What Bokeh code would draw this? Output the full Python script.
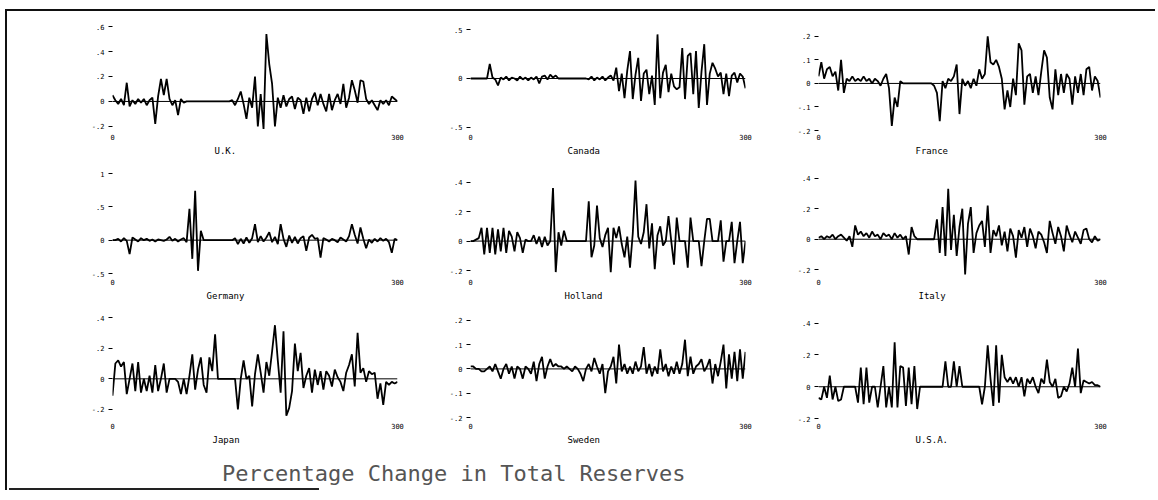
import numpy as np
from bokeh.plotting import figure
from bokeh.layouts import row, column
from bokeh.models import FixedTicker, Span, Title, Div, Spacer
from bokeh.embed import file_html
from bokeh.resources import INLINE

# Monthly percentage change in total reserves, one value every 3 months (0..300)
STEP = 3

uk = [0.05, 0.01, -0.02, 0.02, -0.03, 0.15, -0.04, 0.01, -0.02, 0.02,
      -0.01, 0.02, -0.03, 0.01, 0.03, -0.18, 0.04, 0.18, 0.05, 0.18,
      0.02, -0.03, 0.01, -0.11, 0.02, -0.01, 0, 0, 0, 0,
      0, 0, 0, 0, 0, 0, 0, 0, 0, 0,
      0, 0, 0.01, -0.03, 0.02, 0.08, -0.02, -0.14, 0.03, -0.05,
      0.2, -0.2, 0.06, -0.22, 0.54, 0.3, 0.14, -0.2, 0.03, -0.05,
      0.05, -0.04, 0.02, 0.04, -0.06, 0.03, 0.01, -0.1, 0.03, -0.08,
      0.02, 0.07, -0.03, 0.06, -0.02, -0.08, 0.06, -0.07, 0.01, 0.06,
      -0.02, 0.14, -0.05, 0.03, 0.17, 0.09, -0.01, 0.17, 0.16, 0.02,
      -0.02, 0.01, -0.03, -0.07, 0.01, -0.02, 0.01, -0.03, 0.04, 0.02,
      0.0]

canada = [0, 0, 0, 0, 0, 0, 0, 0.15, 0.01, -0.01,
          -0.07, 0.01, -0.01, 0.02, -0.02, 0.01, 0.0, -0.02, 0.02, -0.01,
          0.01, -0.02, 0.01, -0.01, 0.02, -0.05, 0.02, 0.03, -0.01, 0.04,
          0.01, 0.03, 0, 0, 0, 0, 0, 0, 0, 0,
          0, 0, 0, -0.01, 0.02, -0.02, 0.01, -0.01, 0.02, -0.02,
          0.01, 0.03, -0.02, 0.11, -0.13, 0.05, -0.2, 0.08, 0.28, -0.21,
          0.04, 0.21, -0.23, 0.05, 0.09, -0.16, 0.03, -0.27, 0.45, -0.2,
          0.06, 0.14, -0.14, 0.05, -0.08, -0.11, -0.09, 0.31, -0.21, 0.23,
          0.26, -0.16, 0.28, -0.3, 0.07, 0.35, -0.27, 0.05, 0.16, 0.1,
          0.02, 0.06, -0.16, 0.05, -0.18, 0.03, 0.06, -0.04, 0.05, 0.02,
          -0.1]

france = [0.03, 0.09, 0.02, 0.06, 0.07, 0.03, 0.05, -0.03, 0.1, -0.04,
          0.02, 0.01, 0.03, 0.01, 0.02, 0.01, 0.03, 0.01, 0.02, 0.0,
          0.02, 0.01, -0.01, 0.02, 0.04, -0.02, -0.18, -0.06, -0.1, 0.01,
          0, 0, 0, 0, 0, 0, 0, 0, 0, 0,
          0, -0.01, -0.04, -0.16, 0.01, -0.02, 0.02, 0.01, 0.03, 0.08,
          -0.13, 0.02, -0.01, 0.01, -0.02, 0.02, -0.01, 0.06, 0.02, 0.04,
          0.2, 0.09, 0.08, 0.1, 0.07, 0.02, -0.11, -0.03, -0.1, 0.02,
          -0.05, 0.17, 0.14, -0.09, 0.03, 0.04, -0.04, 0.03, -0.05, 0.05,
          0.14, 0.11, -0.06, -0.11, 0.06, -0.05, 0.04, -0.04, 0.04, 0.02,
          -0.09, 0.03, -0.04, 0.04, -0.05, 0.06, 0.07, -0.03, 0.03, 0.01,
          -0.06]

germany = [0, 0, 0.02, -0.02, 0.03, -0.01, -0.21, 0.04, 0.01, -0.02,
           0.03, 0.0, 0.02, -0.01, 0.01, -0.02, 0.01, 0.0, -0.01, 0.01,
           0.05, -0.01, 0.02, -0.02, 0.01, 0.03, -0.03, 0.47, -0.28, 0.74,
           -0.46, 0.14, 0, 0, 0, 0, 0, 0, 0, 0,
           0, 0, 0, 0.03, -0.06, 0.02, -0.05, 0.04, -0.04, 0.03,
           0.24, -0.03, 0.06, -0.02, 0.04, 0.12, -0.03, 0.05, -0.06, 0.24,
           0.02, -0.1, 0.07, -0.04, 0.05, -0.05, 0.03, 0.06, -0.16, 0.04,
           0.08, 0.02, 0.03, -0.26, 0.03, 0.01, -0.02, 0.02, 0.0, -0.03,
           0.04, 0.01, -0.02, 0.06, 0.24, 0.08, -0.05, 0.19, 0.02, -0.12,
           0.01, -0.04, 0.02, -0.02, 0.03, -0.01, 0.02, -0.03, -0.19, 0.02,
           0.0]

holland = [0, 0, 0.01, 0.02, 0.09, -0.09, 0.09, -0.08, 0.09, -0.09,
           0.08, -0.07, 0.09, -0.08, 0.07, 0.03, -0.07, 0.06, 0.02, -0.08,
           0.01, 0.0, 0.0, 0.04, -0.02, 0.03, -0.04, 0.03, -0.03, 0.0,
           0.36, -0.21, 0.06, -0.03, 0.07, 0.0, 0, 0, 0, 0,
           0, 0, 0, 0.27, -0.11, -0.03, 0.24, 0.02, -0.04, 0.04,
           0.09, -0.21, 0.09, 0.02, 0.1, -0.02, -0.11, 0.03, -0.18, 0.05,
           0.41, 0.03, -0.02, 0.06, 0.25, -0.05, 0.12, -0.19, 0.04, 0.1,
           -0.03, 0.0, 0.17, 0.0, -0.16, 0.16, 0.0, 0.0, 0.0, -0.18,
           0.16, 0.0, 0.0, 0.0, -0.17, 0.0, 0.15, 0.15, 0.0, 0.0,
           0.0, 0.14, -0.14, 0.0, 0.0, 0.13, -0.15, 0.0, 0.13, -0.15,
           0.0]

italy = [0.01, 0.02, 0.0, 0.02, 0.01, 0.03, 0.0, 0.02, 0.03, 0.01,
         -0.01, 0.02, -0.05, 0.09, 0.03, 0.05, 0.02, 0.04, 0.01, 0.05,
         0.02, 0.03, 0.0, 0.04, 0.02, 0.03, 0.0, 0.04, 0.01, 0.03,
         0.0, 0.02, -0.1, 0.08, 0.02, 0, 0, 0, 0, 0,
         0, 0, 0.13, -0.09, 0.21, -0.11, 0.33, -0.07, 0.16, -0.11,
         0.08, 0.2, -0.23, 0.1, 0.21, -0.09, 0.04, 0.09, 0.12, -0.05,
         0.22, -0.09, 0.06, 0.02, 0.09, -0.04, 0.05, -0.08, 0.07, 0.02,
         -0.12, 0.06, 0.01, 0.08, -0.05, 0.07, 0.02, -0.06, 0.05, 0.03,
         -0.02, -0.09, 0.12, 0.04, -0.03, 0.08, 0.02, -0.08, 0.09, 0.03,
         -0.02, 0.05, 0.01, -0.03, 0.06, 0.07, 0.0, -0.02, 0.02, -0.01,
         0.0]

japan = [-0.11, 0.1, 0.12, 0.08, 0.11, -0.1, 0.0, 0.1, -0.08, 0.11,
         -0.09, 0.0, -0.08, 0.02, -0.09, 0.09, -0.08, 0.0, 0.1, -0.09,
         0.0, 0.0, 0.0, -0.02, -0.1, 0.0, -0.1, 0.02, 0.16, -0.07,
         0.06, 0.14, -0.04, -0.09, 0.14, 0.05, 0.29, 0, 0, 0,
         0, 0, 0, 0, -0.2, 0.0, 0.12, 0.0, 0.02, -0.18,
         0.03, 0.16, 0.04, -0.09, 0.11, 0.02, 0.18, 0.35, 0.12, -0.09,
         0.31, -0.24, -0.19, -0.08, 0.23, 0.05, 0.17, -0.06, 0.02, 0.07,
         -0.09, 0.06, -0.04, 0.05, -0.07, 0.05, 0.02, -0.05, 0.06, 0.01,
         -0.02, -0.08, 0.04, 0.09, 0.16, -0.05, 0.3, 0.04, 0.07, -0.02,
         0.05, 0.03, 0.04, -0.13, -0.03, -0.17, -0.02, -0.04, -0.02, -0.03,
         -0.02]

sweden = [0.01, 0.01, 0.0, 0.0, -0.01, -0.01, 0.0, 0.01, -0.01, 0.02,
          -0.01, -0.04, 0.0, 0.02, -0.02, 0.01, -0.04, 0.01, 0.0, -0.04,
          0.01, 0.0, -0.02, 0.03, -0.05, 0.02, 0.05, -0.04, 0.01, 0.04,
          0.01, 0.02, 0.01, 0.01, 0.0, 0.01, 0.0, -0.01, 0.01, 0.0,
          -0.02, -0.05, 0.0, 0.02, -0.01, 0.045, 0.01, -0.02, 0.02, -0.1,
          -0.01, 0.01, 0.05, -0.06, 0.1, -0.01, 0.02, -0.02, 0.01, -0.02,
          0.03, -0.01, 0.01, 0.09, -0.02, 0.02, -0.03, 0.01, -0.02, 0.08,
          -0.01, 0.02, -0.03, 0.01, -0.02, 0.03, -0.02, 0.02, 0.12, -0.03,
          0.05, -0.02, 0.01, 0.02, 0.04, -0.01, 0.01, 0.04, -0.06, 0.02,
          -0.03, 0.03, 0.1, -0.08, 0.06, -0.04, 0.07, -0.05, 0.08, -0.04,
          0.07]

usa = [-0.07, -0.08, 0.0, -0.07, 0.07, -0.08, 0.0, -0.09, -0.08, 0,
       0, 0, 0, 0, -0.1, 0.12, -0.11, 0.12, -0.1, 0.0,
       0.0, -0.13, 0.0, 0.13, -0.13, 0.0, -0.13, 0.28, -0.13, 0.13,
       0.12, -0.12, 0.12, -0.11, 0.13, -0.14, 0, 0, 0, 0,
       0, 0, 0, 0, 0, 0.16, 0.0, 0.0, 0.16, 0.0,
       0.13, 0.0, 0, 0, 0, 0, 0, 0, -0.11, 0.0,
       0.26, 0.05, -0.12, 0.26, -0.1, 0.2, 0.06, 0.03, 0.06, 0.02,
       0.06, 0.0, 0.06, -0.06, 0.05, 0.02, 0.06, 0.0, -0.04, 0.05,
       0.02, 0.17, 0.03, 0.0, 0.05, -0.07, -0.06, 0.0, -0.03, 0.02,
       0.12, 0.0, 0.24, -0.04, 0.04, 0.03, 0.02, 0.03, 0.01, 0.01,
       0.0]

countries = ["U.K.", "Canada", "France",
             "Germany", "Holland", "Italy",
             "Japan", "Sweden", "U.S.A."]
series = [uk, canada, france, germany, holland, italy, japan, sweden, usa]

y_ticks = [[-0.2, 0, 0.2, 0.4, 0.6],
           [-0.5, 0, 0.5],
           [-0.2, -0.1, 0, 0.1, 0.2],
           [-0.5, 0, 0.5, 1.0],
           [-0.2, 0, 0.2, 0.4],
           [-0.2, 0, 0.2, 0.4],
           [-0.2, 0, 0.2, 0.4],
           [-0.2, -0.1, 0, 0.1, 0.2],
           [-0.2, 0, 0.2, 0.4]]
x_ticks = [0, 300]
x_tick_labels = ["0", "300"]

# vertical extent of each panel's plotting area
y_limits = [(-0.241, 0.649), (-0.541, 0.592), (-0.204, 0.267),
            (-0.545, 1.075), (-0.240, 0.492), (-0.244, 0.463),
            (-0.272, 0.446), (-0.212, 0.240), (-0.212, 0.479)]

# panel geometry (pixels)
col_widths = [358, 348, 320]
col_right = [43, 43, 8]
row_heights = [152, 143, 144]
row_top = [9, 5, 4]
row_bottom = [[32, 30, 28], [30, 27, 26], [30, 28, 26]]

MONO = "DejaVu Sans Mono"
INK = "#111"


def tick_text(v):
    if v == 0:
        return "0"
    if float(v).is_integer():
        return str(int(v))
    return f"{v:.1f}".replace("0.", ".", 1)


def make_panel(k):
    r, c = divmod(k, 3)
    vals = series[k]
    x = np.arange(len(vals)) * STEP
    p = figure(width=col_widths[c], height=row_heights[r],
               x_range=(0, 300), y_range=y_limits[k],
               output_backend="svg", toolbar_location=None,
               min_border_left=30, min_border_right=col_right[c],
               min_border_top=row_top[r], min_border_bottom=row_bottom[r][c],
               outline_line_color=None,
               background_fill_color="white", border_fill_color="white")
    p.grid.visible = False

    p.add_layout(Span(location=0, dimension="width",
                      line_color="black", line_width=1))
    p.line(x, vals, line_color="black", line_width=1.8)

    ya = p.yaxis[0]
    ya.ticker = FixedTicker(ticks=y_ticks[k])
    ya.major_label_overrides = {t: tick_text(t) for t in y_ticks[k]}
    ya.axis_line_color = None
    ya.major_tick_in = 0
    ya.major_tick_out = 4
    ya.major_tick_line_color = "black"
    ya.minor_tick_line_color = None
    ya.minor_tick_out = 0
    ya.major_label_standoff = 4
    ya.major_label_text_font = MONO
    ya.major_label_text_font_size = "7px"
    ya.major_label_text_color = "black"

    xa = p.xaxis[0]
    xa.ticker = FixedTicker(ticks=x_ticks)
    xa.major_label_overrides = dict(zip(x_ticks, x_tick_labels))
    xa.axis_line_color = None
    xa.major_tick_line_color = None
    xa.minor_tick_line_color = None
    xa.major_tick_in = 0
    xa.major_tick_out = 0
    xa.minor_tick_out = 0
    xa.major_label_standoff = 2
    xa.major_label_text_font = MONO
    xa.major_label_text_font_size = "7px"
    xa.major_label_text_color = "black"

    name = countries[k]
    p.add_layout(Title(text=name, align="left",
                       offset=int(round(113 - len(name) * 5.4 / 2)),
                       standoff=2, text_font=MONO, text_font_size="9px",
                       text_font_style="normal", text_color="black"),
                 "below")
    return p


panels = [make_panel(k) for k in range(9)]
rows = [row(Spacer(width=73, height=row_heights[r]), *panels[3 * r:3 * r + 3])
        for r in range(3)]

title = Div(text="Percentage Change in Total Reserves",
            width=1000, height=38, margin=0,
            styles={"font-family": MONO, "font-size": "22px",
                    "color": "#555", "padding-left": "213px",
                    "padding-top": "8px", "white-space": "nowrap",
                    "box-sizing": "border-box"})
bottom_rule = Div(text="", width=310, height=2, margin=0,
                  styles={"background-color": "#222"})
body = column(*rows, title, bottom_rule)

# page frame: heavy rule across the top and down the left side
top_rule = Div(text="", width=1150, height=2, margin=0,
               styles={"background-color": INK})
left_rule = Div(text="", width=2, height=479, margin=0,
                styles={"background-color": INK})

page = column(Spacer(width=1150, height=9),
              row(Spacer(width=5, height=2), top_rule),
              row(Spacer(width=5, height=479), left_rule, Spacer(width=2, height=479), body))

open("out.html", "w").write(file_html(page, INLINE))
